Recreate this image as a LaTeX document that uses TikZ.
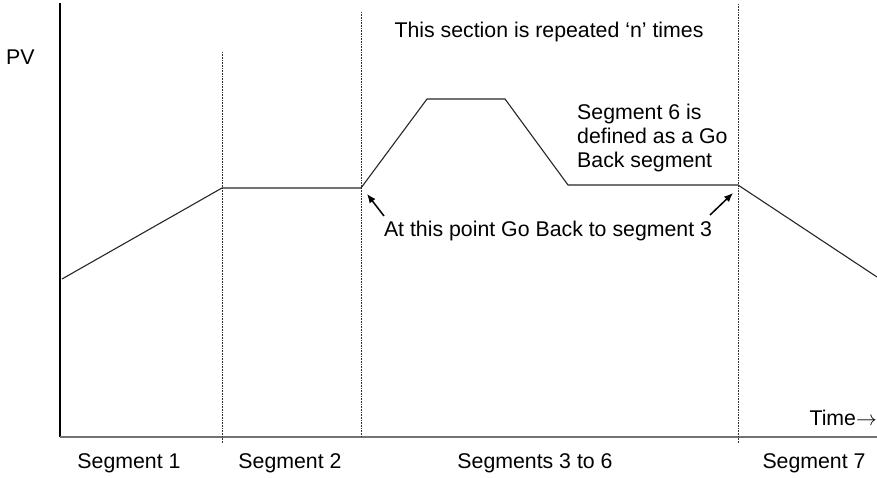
\documentclass[tikz,border=0pt]{standalone}
\usepackage{fontspec}
\setmainfont{Liberation Sans}
\usetikzlibrary{arrows.meta}
\begin{document}
\begin{tikzpicture}[x=1pt,y=-1pt,
  lbl/.style={inner sep=0pt,font=\fontsize{21.3}{24}\selectfont},
  divider/.style={densely dotted,line width=0.6pt,black!80},
  profile/.style={line width=1.1pt,black!85},
  note/.style={-{Latex[length=9pt,width=7.5pt]},line width=1.5pt}]
\useasboundingbox (0,0) rectangle (877,478);
% axes
\coordinate (yt) at (60,3);
\coordinate (o) at (60,437);
\coordinate (xe) at (877,437);
\draw[line width=1.3pt] (yt) -- (o);
\draw[line width=2.2pt,black!55] (o) -- (xe);
% dividers
\coordinate (d1t) at (222,52);  \coordinate (d1b) at (222,443);
\coordinate (d2t) at (361,12);  \coordinate (d2b) at (361,437);
\coordinate (d3t) at (738,4);   \coordinate (d3b) at (738,443);
\draw[divider] (d1t) -- (d1b);
\draw[divider] (d2t) -- (d2b);
\draw[divider] (d3t) -- (d3b);
% profile
\coordinate (p0) at (62,279);
\coordinate (p1) at (222,188);
\coordinate (p2) at (361,188);
\coordinate (p3) at (427,99);
\coordinate (p4) at (505,99);
\coordinate (p5) at (568,185);
\coordinate (p6) at (738,185);
\coordinate (p7) at (877,277);
\draw[profile] (p0) -- (p1) -- (p2) -- (p3) -- (p4) -- (p5) -- (p6) -- (p7);
% texts
\node[lbl,anchor=west] (pv) at (6,57) {PV};
\node[lbl] (rep) at (549,32) {This section is repeated ‘n’ times};
\node[lbl,anchor=north west,align=left] (s6) at (577,104) {Segment 6 is\\defined as a Go\\Back segment};
\node[lbl] (gb) at (548,231) {At this point Go Back to segment 3};
\node[lbl,anchor=east] (time) at (877,418) {Time$\rightarrow$};
\node[lbl] (sg1) at (129,463) {Segment 1};
\node[lbl] (sg2) at (290,463) {Segment 2};
\node[lbl] (sg3) at (535,463) {Segments 3 to 6};
\node[lbl] (sg7) at (814,463) {Segment 7};
% arrows
\coordinate (a1s) at (384,216);
\coordinate (a1e) at (367,194);
\coordinate (a2s) at (710,215);
\coordinate (a2e) at (733,193);
\draw[note] (a1s) -- (a1e);
\draw[note] (a2s) -- (a2e);
\end{tikzpicture}
\end{document}
